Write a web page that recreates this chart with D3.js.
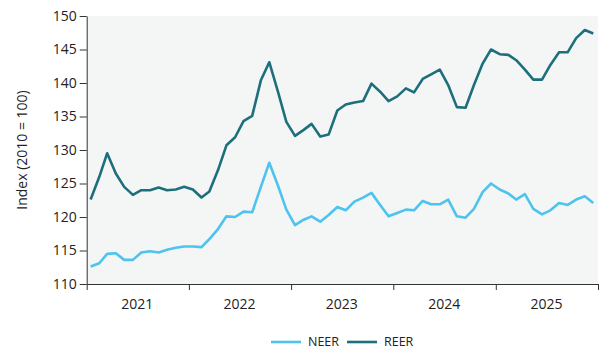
<!DOCTYPE html>
<html>
<head>
<meta charset="utf-8">
<script src="https://cdn.jsdelivr.net/npm/d3@7"></script>
<style>
  body { margin: 0; background: #fff; }
  text { font-family: "Open Sans", "Noto Sans", sans-serif; fill: #222; }
  .axis path, .axis line { stroke: #333; }
</style>
</head>
<body>
<script>
// monthly, Jan 2021 .. Dec 2025
const months = d3.timeMonth.range(new Date(2021, 0, 1), new Date(2026, 0, 1));
const years = [2021, 2022, 2023, 2024, 2025];
const yTicks = [110, 115, 120, 125, 130, 135, 140, 145, 150];

const neer = [
  112.6, 113.1, 114.5, 114.6, 113.6, 113.6, 114.7, 114.9, 114.7, 115.1, 115.4, 115.6,
  115.6, 115.5, 116.7, 118.2, 120.1, 120.0, 120.8, 120.7, 124.5, 128.1, 124.7, 121.1,
  118.8, 119.6, 120.1, 119.3, 120.3, 121.5, 121.0, 122.3, 122.9, 123.6, 121.8, 120.1,
  120.6, 121.1, 121.0, 122.4, 121.9, 121.9, 122.6, 120.1, 119.9, 121.2, 123.7, 125.0,
  124.1, 123.5, 122.6, 123.4, 121.2, 120.4, 121.0, 122.1, 121.8, 122.6, 123.1, 122.1
];
const reer = [
  122.6, 126.0, 129.5, 126.5, 124.5, 123.3, 124.0, 124.0, 124.4, 124.0, 124.1, 124.5,
  124.1, 122.9, 123.8, 127.0, 130.7, 131.9, 134.3, 135.1, 140.4, 143.1, 138.7, 134.2,
  132.1, 133.0, 133.9, 132.0, 132.3, 135.9, 136.8, 137.1, 137.3, 139.9, 138.7, 137.3,
  138.0, 139.2, 138.6, 140.6, 141.3, 142.0, 139.7, 136.4, 136.3, 139.7, 142.9, 145.0,
  144.3, 144.2, 143.4, 142.0, 140.5, 140.5, 142.7, 144.6, 144.6, 146.7, 147.9, 147.4
];

const series = [
  {name: "NEER", values: neer, color: "#4dc3ee"},
  {name: "REER", values: reer, color: "#1d6f7c"}
];

const width = 600, height = 351;
const margin = {top: 16, right: 2, bottom: 67, left: 86.7};

const svg = d3.select("body").append("svg")
  .attr("width", width)
  .attr("height", height);

const x = d3.scaleTime()
  .domain([new Date(2021, 0, 1), new Date(2026, 0, 1)])
  .range([margin.left, width - margin.right]);

const y = d3.scaleLinear()
  .domain([110, 150])
  .range([height - margin.bottom, margin.top]);

// plot background
svg.append("rect")
  .attr("x", x.range()[0])
  .attr("y", y(150))
  .attr("width", x.range()[1] - x.range()[0])
  .attr("height", y(110) - y(150))
  .attr("fill", "#f4f6f6");

const midMonth = d => new Date(d.getFullYear(), d.getMonth(), 15);

const line = d3.line()
  .x((v, i) => x(midMonth(months[i])))
  .y(v => y(v));

svg.selectAll(".series")
  .data(series)
  .enter().append("path")
  .attr("class", "series")
  .attr("fill", "none")
  .attr("stroke", d => d.color)
  .attr("stroke-width", 2.6)
  .attr("stroke-linejoin", "round")
  .attr("d", d => line(d.values));

// y axis
const yAxis = svg.append("g")
  .attr("class", "axis")
  .attr("transform", "translate(" + margin.left + ",0)")
  .call(d3.axisLeft(y).tickValues(yTicks).tickSize(7).tickSizeOuter(0).tickPadding(3));
yAxis.selectAll("text").style("font-size", "14px");

// x axis
const xAxis = svg.append("g")
  .attr("class", "axis")
  .attr("transform", "translate(0," + y(110) + ")")
  .call(d3.axisBottom(x).ticks(d3.timeYear.every(1)).tickSize(6).tickSizeOuter(0).tickFormat(""));

svg.append("g").selectAll("text")
  .data(years)
  .enter().append("text")
  .attr("x", d => x(new Date(d, 6, 1)))
  .attr("y", y(110) + 25)
  .attr("text-anchor", "middle")
  .style("font-size", "14px")
  .text(d => d);

// y title
svg.append("text")
  .attr("transform", "translate(27," + ((y(110) + y(150)) / 2) + ") rotate(-90)")
  .attr("text-anchor", "middle")
  .style("font-size", "14px")
  .text("Index (2010 = 100)");

// legend
const legendPos = [271, 347];
const legend = svg.append("g").selectAll("g")
  .data(series)
  .enter().append("g")
  .attr("transform", (d, i) => "translate(" + legendPos[i] + ",342)");
legend.append("line")
  .attr("x1", 0).attr("x2", 30)
  .attr("stroke", d => d.color)
  .attr("stroke-width", 2.6);
legend.append("text")
  .attr("x", 37)
  .attr("dy", "0.35em")
  .style("font-size", "12.5px")
  .text(d => d.name);
</script>
</body>
</html>
